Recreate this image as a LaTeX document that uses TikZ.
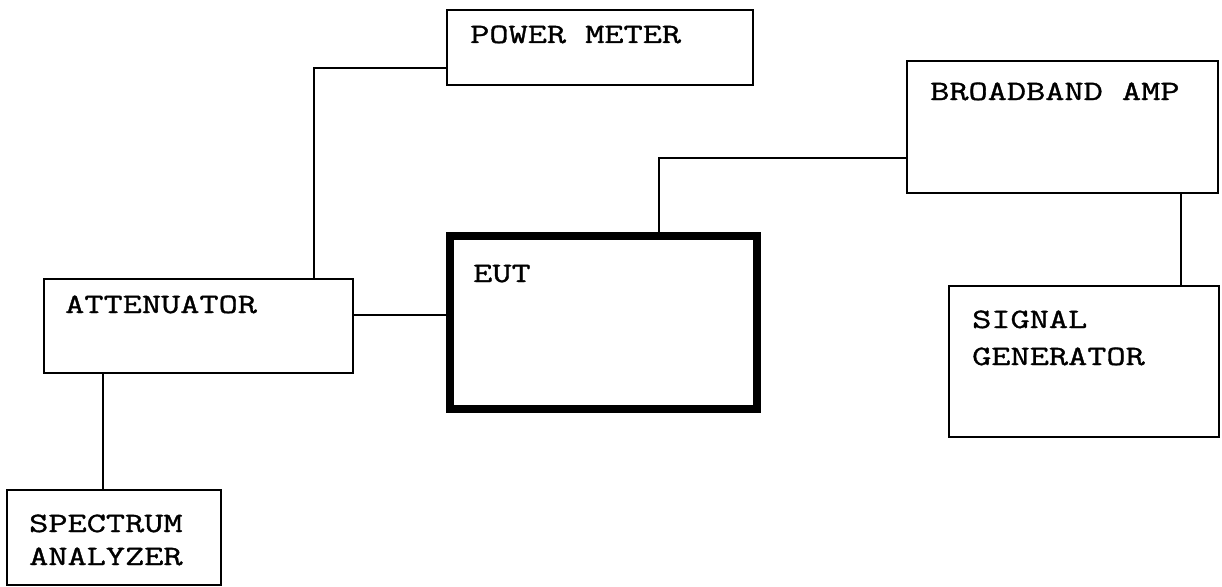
\documentclass[tikz,border=0pt]{standalone}
\usepackage{fontspec}
\newfontfamily\boxfont[FakeStretch=1.33,FakeBold=1.2]{Latin Modern Mono}
\begin{document}
\begin{tikzpicture}[x=1pt,y=-1pt,
    box/.style={draw, line width=2pt, inner sep=0pt},
    lbl/.style={anchor=base west, inner sep=0pt, align=left,
        font=\boxfont\fontsize{28}{33}\selectfont}]
\useasboundingbox (0,0) rectangle (1222,586);

% les appareils
\node[box, minimum width=306pt, minimum height=75pt] (pm) at (600,47.5) {};
\node[box, minimum width=311pt, minimum height=132pt] (amp) at (1062.5,127) {};
\node[box, line width=8pt, minimum width=307pt, minimum height=173pt] (eut) at (603.5,322.5) {};
\node[box, minimum width=309pt, minimum height=94pt] (att) at (198.5,326) {};
\node[box, minimum width=270pt, minimum height=151pt] (sg) at (1084,361.5) {};
\node[box, minimum width=214pt, minimum height=95pt] (sa) at (114,537.5) {};

% les textes (base de la derniere ligne)
\node[lbl] (pmtxt) at (470,43) {POWER METER};
\node[lbl] (amptxt) at (930,100) {BROADBAND AMP};
\node[lbl] (euttxt) at (473,282) {EUT};
\node[lbl] (atttxt) at (65,313) {ATTENUATOR};
\node[lbl] (sgtxt) at (972,365) {SIGNAL\\[4pt]GENERATOR};
\node[lbl] (satxt) at (29,565) {SPECTRUM\\ANALYZER};

% les cables
\coordinate (pmbend) at (314,68);
\coordinate (eutin) at (400,315);
\coordinate (ampbend) at (659,158);
\coordinate (sgtap) at (1181,250);
\coordinate (satap) at (103,430);
\draw[line width=2pt] (pm.west |- pmbend) -| (att.north -| pmbend);
\draw[line width=2pt] (att.east |- eutin) -- (eut.west |- eutin);
\draw[line width=2pt] (eut.north -| ampbend) |- (amp.west |- ampbend);
\draw[line width=2pt] (amp.south -| sgtap) -- (sg.north -| sgtap);
\draw[line width=2pt] (att.south -| satap) -- (sa.north -| satap);
\end{tikzpicture}
\end{document}
